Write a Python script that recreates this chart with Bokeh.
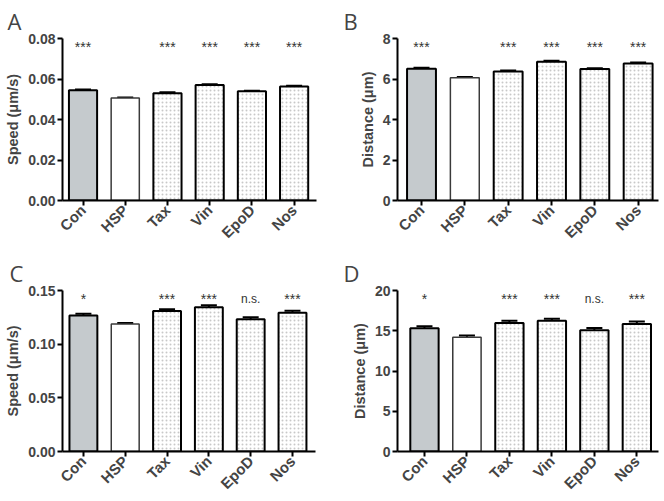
from math import pi
from bokeh.plotting import figure
from bokeh.models import (ColumnDataSource, Whisker, TeeHead, FixedTicker,
                          PrintfTickFormatter, Range1d)
from bokeh.layouts import column, row
from bokeh.embed import file_html
from bokeh.resources import INLINE
from bokeh.core.properties import value

categories = ["Con", "HSP", "Tax", "Vin", "EpoD", "Nos"]

speed_A = [0.0544, 0.0506, 0.0530, 0.0570, 0.0539, 0.0563]
err_A = [0.0004, 0.0003, 0.0004, 0.0004, 0.0003, 0.0004]
sig_A = ["***", "", "***", "***", "***", "***"]
ticks_A = [0.0, 0.02, 0.04, 0.06, 0.08]

dist_B = [6.51, 6.06, 6.37, 6.85, 6.49, 6.77]
err_B = [0.05, 0.04, 0.05, 0.05, 0.04, 0.05]
sig_B = ["***", "", "***", "***", "***", "***"]
ticks_B = [0, 2, 4, 6, 8]

speed_C = [0.1266, 0.1188, 0.1308, 0.1345, 0.1233, 0.1293]
err_C = [0.0018, 0.0009, 0.0018, 0.0018, 0.0018, 0.0018]
sig_C = ["*", "", "***", "***", "n.s.", "***"]
ticks_C = [0.0, 0.05, 0.10, 0.15]

dist_D = [15.3, 14.2, 15.95, 16.25, 15.05, 15.85]
err_D = [0.27, 0.2, 0.3, 0.25, 0.3, 0.3]
sig_D = ["*", "", "***", "***", "n.s.", "***"]
ticks_D = [0, 5, 10, 15, 20]

FONT = "Liberation Sans"


def make_panel(letter, vals, errs, sigs, ticks, ylabel, fmt, width, height,
               left, top, right, bottom, xr, letter_dx):
    n = len(categories)
    xs = list(range(n))
    ymax = ticks[-1]
    src = ColumnDataSource(dict(
        x=xs, top=vals, upper=[v + e for v, e in zip(vals, errs)],
        fill=["#c5cacd", "white"] + ["white"] * (n - 2),
        hatch=["blank", "blank"] + ["dot"] * (n - 2),
        lc=["black", "#3a3a3a"] + ["black"] * (n - 2),
        lw=[2, 1.5] + [2] * (n - 2),
        sig=sigs, sy=[ymax * 0.945] * n,
        fs=["12px" if s == "n.s." else "14px" for s in sigs],
    ))
    p = figure(width=width, height=height, output_backend="svg",
               toolbar_location=None, x_range=Range1d(*xr),
               y_range=Range1d(0, ymax), min_border_left=left,
               min_border_top=top, min_border_right=right,
               min_border_bottom=bottom, title=letter)
    p.title.text_font = "Open Sans"
    p.title.text_font_style = "normal"
    p.title.text_font_size = "22px"
    p.title.align = "left"
    p.title.offset = letter_dx
    p.title.standoff = 5
    p.vbar(x="x", top="top", bottom=0, width=0.667, source=src,
           fill_color="fill", line_color="lc", line_width="lw",
           hatch_pattern="hatch", hatch_color="#c8c8c8", hatch_scale=4,
           hatch_weight=0.8)
    w = Whisker(source=src, base="x", lower="top", upper="upper",
                upper_head=TeeHead(size=16, line_width=2, line_color="black"),
                lower_head=None, line_width=2, line_color="black")
    p.add_layout(w)
    p.text(x="x", y="sy", text="sig", source=src, text_font=value(FONT),
           text_font_size="fs", text_color="#333333", text_align="center",
           text_baseline="middle")
    p.xgrid.visible = False
    p.ygrid.visible = False
    p.outline_line_color = None
    p.xaxis.ticker = FixedTicker(ticks=xs)
    p.xaxis.major_label_overrides = {i: c for i, c in enumerate(categories)}
    p.xaxis.major_label_orientation = pi / 4
    p.xaxis.major_label_standoff = 2
    p.xaxis.major_label_text_font_size = "15px"
    p.yaxis.ticker = FixedTicker(ticks=ticks)
    p.yaxis.formatter = PrintfTickFormatter(format=fmt)
    p.yaxis.major_label_standoff = 2
    p.yaxis.major_label_text_font_size = "14px"
    p.axis.axis_line_width = 2
    p.axis.major_tick_line_width = 2
    p.axis.major_tick_out = 5
    p.axis.major_tick_in = 0
    p.axis.minor_tick_line_color = None
    p.axis.major_label_text_font = FONT
    p.axis.major_label_text_font_style = "bold"
    p.yaxis.axis_label = ylabel
    p.yaxis.axis_label_text_font = FONT
    p.yaxis.axis_label_text_font_style = "bold"
    p.yaxis.axis_label_text_font_size = "14.5px"
    p.yaxis.axis_label_standoff = 4
    return p


pA = make_panel("A", speed_A, err_A, sig_A, ticks_A, "Speed (\u03bcm/s)", "%.2f",
                332, 250, 62, 37, 16, 43, (-0.486, 5.53), -55)
pB = make_panel("B", dist_B, err_B, sig_B, ticks_B, "Distance (\u03bcm)", "%d",
                332, 250, 65, 38, 6, 43, (-0.554, 5.47), -54)
pC = make_panel("C", speed_C, err_C, sig_C, ticks_C, "Speed (\u03bcm/s)", "%.2f",
                332, 251, 62, 39, 17, 43, (-0.5, 5.55), -53)
pD = make_panel("D", dist_D, err_D, sig_D, ticks_D, "Distance (\u03bcm)", "%d",
                332, 251, 65, 40, 6, 43, (-0.635, 5.51), -54)

layout = column(row(pA, pB, spacing=0), row(pC, pD, spacing=0), spacing=0)
open("out.html", "w").write(file_html(layout, INLINE))
